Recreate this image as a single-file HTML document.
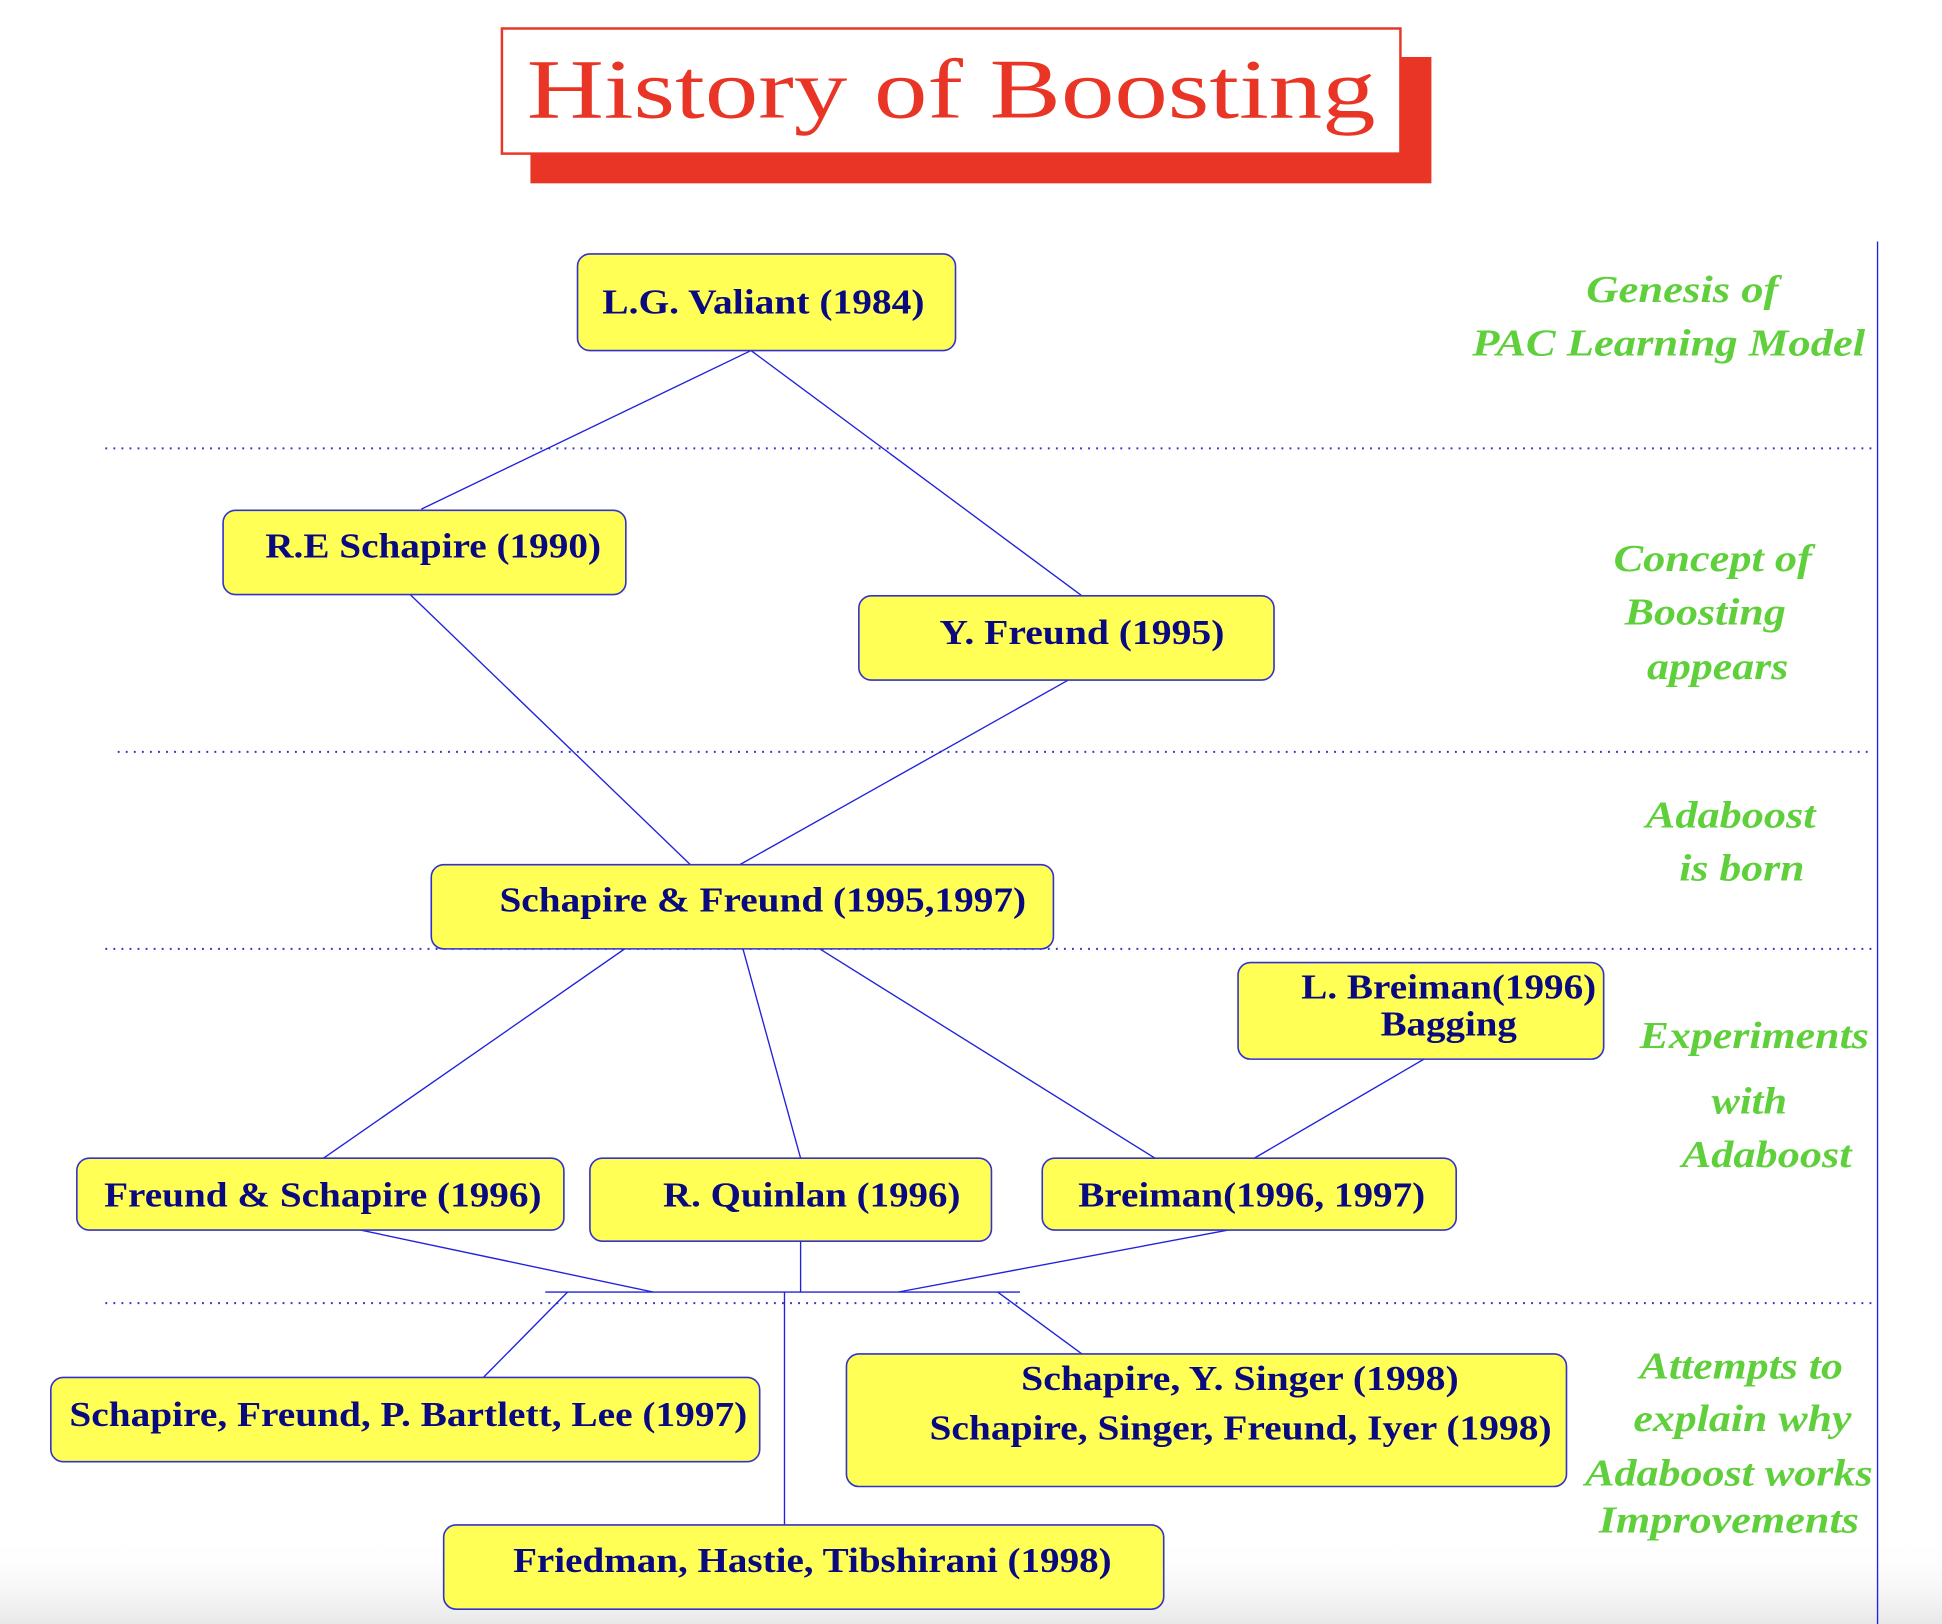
<!DOCTYPE html>
<html><head><meta charset="utf-8"><style>
html,body{margin:0;padding:0;background:#fff;width:1942px;height:1624px;overflow:hidden}
svg{display:block}
.n{font-family:"Liberation Serif",serif;font-weight:bold;font-size:28px;fill:#0a0a80}
.g{font-family:"Liberation Serif",serif;font-weight:bold;font-style:italic;font-size:31px;fill:#5fd03c}
rect.b{fill:#ffff55;stroke:#3333cc;stroke-width:1.3}
line{stroke:#2222dd;stroke-width:1.1}
.d{stroke:#3333cc;stroke-width:1.6;stroke-dasharray:1.5 5}
</style></head><body>
<svg width="1942" height="1624" viewBox="0 0 1567 1311" preserveAspectRatio="none" xmlns="http://www.w3.org/2000/svg">
<defs><linearGradient id="bg" x1="0" y1="0" x2="0" y2="1"><stop offset="0" stop-color="#fff" stop-opacity="0"/><stop offset="1" stop-color="#e8e8e8"/></linearGradient></defs>
<rect x="0" y="1240" width="1567" height="71" fill="url(#bg)"/>
<rect x="428" y="46" width="727" height="102" fill="#e93526"/>
<rect x="405" y="23" width="725" height="101" fill="#fff" stroke="#e93526" stroke-width="2"/>
<text x="425" y="95" font-family="Liberation Serif,serif" font-size="68" fill="#e93526" textLength="685" lengthAdjust="spacingAndGlyphs">History of Boosting</text>

<line x1="1515" y1="195" x2="1515" y2="1311"/>
<line class="d" x1="85" y1="362" x2="1515" y2="362"/>
<line class="d" x1="95" y1="607" x2="1510" y2="607"/>
<line class="d" x1="85" y1="766" x2="1515" y2="766"/>
<line class="d" x1="85" y1="1052" x2="1515" y2="1052"/>

<line x1="606" y1="283" x2="340" y2="411"/>
<line x1="606" y1="283" x2="873" y2="481"/>
<line x1="331" y1="480" x2="557" y2="698"/>
<line x1="862" y1="549" x2="597" y2="698"/>
<line x1="517" y1="757" x2="261" y2="935"/>
<line x1="597" y1="757" x2="646" y2="935"/>
<line x1="647" y1="757" x2="932" y2="935"/>
<line x1="1149" y1="855" x2="1012" y2="935"/>
<line x1="291" y1="993" x2="527" y2="1043"/>
<line x1="646" y1="993" x2="646" y2="1043"/>
<line x1="991" y1="993" x2="725" y2="1043"/>
<line x1="440" y1="1043" x2="823" y2="1043"/>
<line x1="458" y1="1043" x2="390" y2="1112"/>
<line x1="633" y1="1043" x2="633" y2="1231"/>
<line x1="805" y1="1043" x2="873" y2="1093"/>

<rect class="b" x="466" y="205" width="305" height="78" rx="10"/>
<text class="n" x="486" y="253" textLength="260" lengthAdjust="spacingAndGlyphs">L.G. Valiant (1984)</text>
<rect class="b" x="180" y="412" width="325" height="68" rx="10"/>
<text class="n" x="214" y="450" textLength="271" lengthAdjust="spacingAndGlyphs">R.E Schapire (1990)</text>
<rect class="b" x="693" y="481" width="335" height="68" rx="10"/>
<text class="n" x="758" y="520" textLength="230" lengthAdjust="spacingAndGlyphs">Y. Freund (1995)</text>
<rect class="b" x="348" y="698" width="502" height="68" rx="10"/>
<text class="n" x="403" y="736" textLength="425" lengthAdjust="spacingAndGlyphs">Schapire &amp; Freund (1995,1997)</text>
<rect class="b" x="999" y="777" width="295" height="78" rx="10"/>
<text class="n" x="1050" y="806" textLength="238" lengthAdjust="spacingAndGlyphs">L. Breiman(1996)</text>
<text class="n" x="1114" y="836" textLength="110" lengthAdjust="spacingAndGlyphs">Bagging</text>
<rect class="b" x="62" y="935" width="393" height="58" rx="10"/>
<text class="n" x="84" y="974" textLength="353" lengthAdjust="spacingAndGlyphs">Freund &amp; Schapire (1996)</text>
<rect class="b" x="476" y="935" width="324" height="67" rx="10"/>
<text class="n" x="535" y="974" textLength="240" lengthAdjust="spacingAndGlyphs">R. Quinlan (1996)</text>
<rect class="b" x="841" y="935" width="334" height="58" rx="10"/>
<text class="n" x="870" y="974" textLength="280" lengthAdjust="spacingAndGlyphs">Breiman(1996, 1997)</text>
<rect class="b" x="41" y="1112" width="572" height="68" rx="10"/>
<text class="n" x="56" y="1151" textLength="547" lengthAdjust="spacingAndGlyphs">Schapire, Freund, P. Bartlett, Lee (1997)</text>
<rect class="b" x="683" y="1093" width="581" height="107" rx="10"/>
<text class="n" x="824" y="1122" textLength="353" lengthAdjust="spacingAndGlyphs">Schapire, Y. Singer (1998)</text>
<text class="n" x="750" y="1162" textLength="502" lengthAdjust="spacingAndGlyphs">Schapire, Singer, Freund, Iyer (1998)</text>
<rect class="b" x="358" y="1231" width="581" height="68" rx="10"/>
<text class="n" x="414" y="1269" textLength="483" lengthAdjust="spacingAndGlyphs">Friedman, Hastie, Tibshirani (1998)</text>

<text class="g" x="1280" y="244" textLength="155" lengthAdjust="spacingAndGlyphs">Genesis of</text>
<text class="g" x="1188" y="287" textLength="317" lengthAdjust="spacingAndGlyphs">PAC Learning Model</text>
<text class="g" x="1302" y="461" textLength="160" lengthAdjust="spacingAndGlyphs">Concept of</text>
<text class="g" x="1311" y="504" textLength="130" lengthAdjust="spacingAndGlyphs">Boosting</text>
<text class="g" x="1329" y="548" textLength="114" lengthAdjust="spacingAndGlyphs">appears</text>
<text class="g" x="1328" y="668" textLength="137" lengthAdjust="spacingAndGlyphs">Adaboost</text>
<text class="g" x="1355" y="711" textLength="101" lengthAdjust="spacingAndGlyphs">is born</text>
<text class="g" x="1323" y="846" textLength="185" lengthAdjust="spacingAndGlyphs">Experiments</text>
<text class="g" x="1381" y="899" textLength="61" lengthAdjust="spacingAndGlyphs">with</text>
<text class="g" x="1357" y="942" textLength="137" lengthAdjust="spacingAndGlyphs">Adaboost</text>
<text class="g" x="1323" y="1113" textLength="164" lengthAdjust="spacingAndGlyphs">Attempts to</text>
<text class="g" x="1318" y="1155" textLength="176" lengthAdjust="spacingAndGlyphs">explain why</text>
<text class="g" x="1279" y="1199" textLength="232" lengthAdjust="spacingAndGlyphs">Adaboost works</text>
<text class="g" x="1290" y="1237" textLength="210" lengthAdjust="spacingAndGlyphs">Improvements</text>
</svg>
</body></html>
